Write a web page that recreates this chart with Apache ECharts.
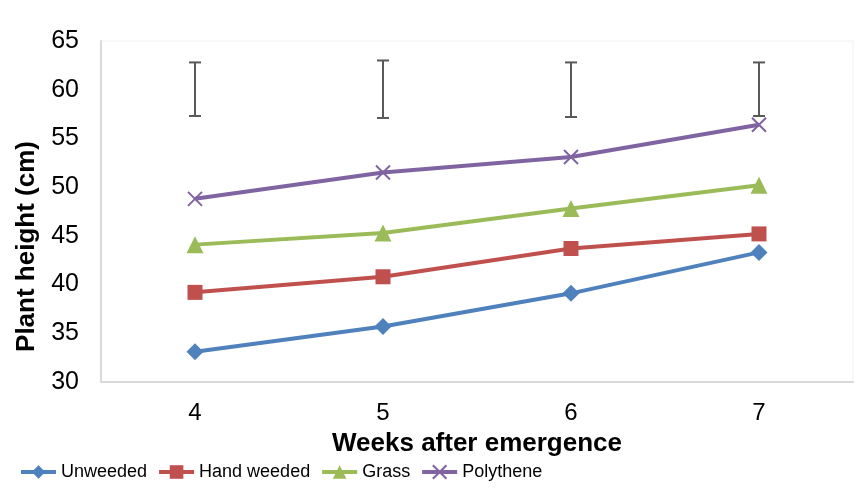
<!DOCTYPE html>
<html>
<head>
<meta charset="utf-8">
<script src="https://cdn.jsdelivr.net/npm/echarts@6/dist/echarts.min.js"></script>
<style>
html,body{margin:0;padding:0;background:#fff;}
#chart{width:859px;height:489px;}
</style>
</head>
<body>
<div id="chart"></div>
<script>
var categories = ['4', '5', '6', '7'];
var unweeded = [33.1, 35.7, 39.1, 43.3];
var handWeeded = [39.2, 40.8, 43.7, 45.2];
var grass = [44.1, 45.3, 47.8, 50.2];
var polythene = [48.8, 51.5, 53.1, 56.4];
var errLow = [57.3, 57.1, 57.2, 57.3];
var errHigh = [62.8, 63.0, 62.8, 62.8];
var yTicks = {min: 30, max: 65, interval: 5};

var FONT = 'Liberation Sans, Arial, sans-serif';
var chart = echarts.init(document.getElementById('chart'));

function lineSeries(name, data, color, symbol, size, extra) {
  var s = {
    name: name, type: 'line', data: data,
    symbol: symbol, symbolSize: size,
    lineStyle: {color: color, width: 4},
    itemStyle: {color: color},
    z: 3
  };
  if (extra) Object.assign(s, extra);
  return s;
}

var errData = categories.map(function (c, i) { return [i, errLow[i], errHigh[i]]; });

chart.setOption({
  animation: false,
  grid: {left: 101, right: 6, top: 41, bottom: 107, show: true, borderColor: '#f2f2f2', borderWidth: 1},
  legend: {
    left: 14, top: 458, itemWidth: 35, itemHeight: 17, itemGap: 10,
    lineStyle: {width: 4},
    textStyle: {fontFamily: FONT, fontSize: 18, color: '#000'},
    data: ['Unweeded', 'Hand weeded', 'Grass', 'Polythene']
  },
  xAxis: {
    type: 'category', data: categories, boundaryGap: true,
    axisLine: {lineStyle: {color: '#d9d9d9', width: 2}},
    axisTick: {show: false},
    axisLabel: {fontFamily: FONT, fontSize: 24, color: '#000', margin: 19},
    name: 'Weeks after emergence', nameLocation: 'middle', nameGap: 49,
    nameTextStyle: {fontFamily: FONT, fontSize: 26, fontWeight: 'bold', color: '#000'}
  },
  yAxis: {
    type: 'value', min: yTicks.min, max: yTicks.max, interval: yTicks.interval,
    axisLine: {show: true, lineStyle: {color: '#d9d9d9', width: 2}},
    axisTick: {show: false},
    splitLine: {show: false},
    axisLabel: {fontFamily: FONT, fontSize: 25, color: '#000', margin: 22},
    name: 'Plant height (cm)', nameLocation: 'middle', nameGap: 61,
    nameTextStyle: {fontFamily: FONT, fontSize: 26, fontWeight: 'bold', color: '#000', padding: [0, 70, 0, 0]}
  },
  series: [
    lineSeries('Unweeded', unweeded, '#4F81BD', 'diamond', 17),
    lineSeries('Hand weeded', handWeeded, '#C0504D', 'rect', 15),
    lineSeries('Grass', grass, '#9BBB59', 'triangle', 17),
    lineSeries('Polythene', polythene, '#8064A2', 'path://M0,0L10,10M10,0L0,10', 14,
      {itemStyle: {color: '#8064A2', borderColor: '#8064A2', borderWidth: 2}}),
    {
      type: 'custom', name: 'err', data: errData, z: 2,
      renderItem: function (params, api) {
        var x = api.value(0);
        var lo = api.coord([x, api.value(1)]);
        var hi = api.coord([x, api.value(2)]);
        var hw = 6;
        var st = {stroke: '#595959', lineWidth: 2};
        return {
          type: 'group',
          children: [
            {type: 'line', shape: {x1: lo[0], y1: lo[1], x2: hi[0], y2: hi[1]}, style: st},
            {type: 'line', shape: {x1: lo[0] - hw, y1: lo[1], x2: lo[0] + hw, y2: lo[1]}, style: st},
            {type: 'line', shape: {x1: hi[0] - hw, y1: hi[1], x2: hi[0] + hw, y2: hi[1]}, style: st}
          ]
        };
      }
    }
  ]
});
</script>
</body>
</html>
